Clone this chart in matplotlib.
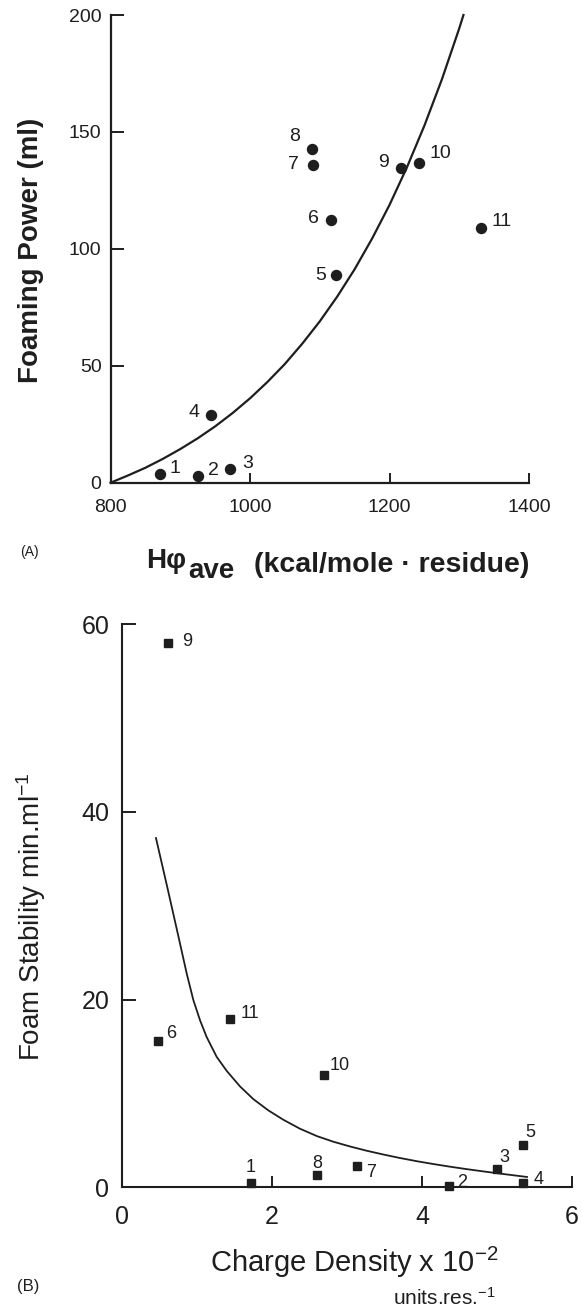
import numpy as np
import matplotlib.pyplot as plt

plt.rcParams["font.family"] = ["Liberation Sans", "DejaVu Sans"]
plt.rcParams["mathtext.fontset"] = "custom"
plt.rcParams["mathtext.rm"] = "Liberation Sans"
plt.rcParams["mathtext.default"] = "regular"

# Panel A: foaming power vs average hydrophobicity
a_ids = ["1", "2", "3", "4", "5", "6", "7", "8", "9", "10", "11"]
a_hphi = [870.8, 924.9, 971.2, 944.4, 1123, 1116.7, 1090, 1088.5, 1217, 1241.7, 1330.6]
a_foam = [3.8, 3.0, 6.0, 28.8, 88.8, 112.3, 135.8, 142.7, 134.7, 136.8, 108.8]
# fitted curve
a_fit_x = [800, 825, 850, 875, 900, 925, 950, 975, 1000, 1025, 1050, 1075,
           1100, 1125, 1150, 1175, 1200, 1225, 1250, 1275, 1300, 1306]
a_fit_y = [0, 3.1, 6.4, 10.2, 14.4, 19.0, 24.1, 29.8, 36.1, 43.1, 50.8, 59.5,
           69.0, 79.6, 91.3, 104.4, 118.8, 134.9, 152.7, 172.4, 194.3, 200]
a_xticks = [800, 1000, 1200, 1400]
a_yticks = [0, 50, 100, 150, 200]

# Panel B: foam stability vs charge density
b_ids = ["1", "2", "3", "4", "5", "6", "7", "8", "9", "10", "11"]
b_charge = [1.72, 4.36, 5.0, 5.35, 5.35, 0.485, 3.13, 2.6, 0.616, 2.69, 1.44]
b_stab = [0.43, 0.14, 2.0, 0.5, 4.5, 15.6, 2.27, 1.3, 58.0, 12.0, 17.9]
b_fit_x = [0.453, 0.6, 0.75, 0.862, 0.951, 1.04, 1.129, 1.262, 1.396, 1.573,
           1.75, 1.95, 2.15, 2.37, 2.6, 2.82, 3.04, 3.26, 3.48, 3.7, 3.93,
           4.15, 4.37, 4.6, 4.82, 5.1, 5.4]
b_fit_y = [37.2, 32.1, 26.8, 22.8, 19.95, 17.8, 16.0, 13.9, 12.4, 10.75,
           9.4, 8.2, 7.2, 6.25, 5.45, 4.85, 4.35, 3.9, 3.5, 3.13, 2.78,
           2.48, 2.2, 1.93, 1.69, 1.4, 1.1]
b_xticks = [0, 2, 4, 6]
b_yticks = [0, 20, 40, 60]

# label offsets in pixels (right, up)
a_offsets = [(15, 5), (16, 5), (18, 5), (-17, 3), (-15, 0), (-18, 2),
             (-19, 1), (-17, 12), (-18, 5), (22, 9), (21, 7)]
b_offsets = [(0, 16), (13, 3), (7, 11), (15, 3), (7, 13), (13, 7),
             (14, -7), (0, 12), (19, 1), (16, 9), (20, 6)]

INK = "#1e1e1e"
W, H = 582, 1314


def fx(x):
    return x / W


def fy(y):
    return 1 - y / H


fig = plt.figure(figsize=(W / 100, H / 100), dpi=100)
fig.patch.set_facecolor("white")


def style_axes(ax, lw):
    for side in ["top", "right"]:
        ax.spines[side].set_visible(False)
    for side in ["left", "bottom"]:
        ax.spines[side].set_linewidth(lw)
        ax.spines[side].set_color(INK)


### Panel A
ax_a = fig.add_axes([fx(110.6), fy(482.7), (529 - 110.6) / W, (482.7 - 15) / H])
style_axes(ax_a, 1.6)
ax_a.plot(a_fit_x, a_fit_y, color=INK, lw=1.6, clip_on=False, zorder=2,
          solid_joinstyle="round")
ax_a.plot(a_hphi, a_foam, "o", color=INK, ms=7.2, clip_on=False, zorder=3)
for lab, x, y, off in zip(a_ids, a_hphi, a_foam, a_offsets):
    ax_a.annotate(lab, (x, y), xytext=off, textcoords="offset pixels",
                  ha="center", va="center", fontsize=14, color=INK)
ax_a.set_xlim(800, 1400)
ax_a.set_ylim(0, 200)
ax_a.set_xticks(a_xticks)
ax_a.set_yticks(a_yticks)
ax_a.tick_params(axis="y", direction="in", length=9, width=1.4, pad=6.5,
                 labelsize=14, colors=INK)
ax_a.tick_params(axis="x", direction="in", length=7.5, width=1.4, pad=12,
                 labelsize=14, colors=INK)

fig.text(fx(31), fy(250), "Foaming Power (ml)", rotation=90, ha="center",
         va="center", fontsize=20, fontweight="bold", color=INK)
fig.text(fx(20), fy(552), "(A)", ha="left", va="center", fontsize=10, color=INK)
fig.text(fx(146.6), fy(568), "H\u03c6", ha="left", va="baseline", fontsize=20,
         fontweight="bold", color=INK)
fig.text(fx(188.6), fy(578), "ave", ha="left", va="baseline", fontsize=20,
         fontweight="bold", color=INK)
fig.text(fx(254), fy(572), "(kcal/mole \u00b7 residue)", ha="left", va="baseline",
         fontsize=20.5, fontweight="bold", color=INK)

### Panel B
ax_b = fig.add_axes([fx(122), fy(1187.3), (572 - 122) / W, (1187.3 - 624) / H])
style_axes(ax_b, 1.5)
ax_b.plot(b_fit_x, b_fit_y, color=INK, lw=1.3, zorder=2, solid_joinstyle="round")
ax_b.plot(b_charge, b_stab, "s", color=INK, ms=6, clip_on=False, zorder=3)
for lab, x, y, off in zip(b_ids, b_charge, b_stab, b_offsets):
    ax_b.annotate(lab, (x, y), xytext=off, textcoords="offset pixels",
                  ha="center", va="center", fontsize=13, color=INK)
ax_b.set_xlim(0, 6)
ax_b.set_ylim(0, 60)
ax_b.set_xticks(b_xticks)
ax_b.set_yticks(b_yticks)
ax_b.tick_params(axis="y", direction="in", length=10, width=1.4, pad=9,
                 labelsize=18, colors=INK)
ax_b.tick_params(axis="x", direction="in", length=8, width=1.4, pad=13,
                 labelsize=18, colors=INK)

fig.text(fx(31), fy(917), "Foam Stability min.ml$^{-1}$", rotation=90,
         ha="center", va="center", fontsize=20, color=INK)
fig.text(fx(210), fy(1262), "Charge Density x 10$^{-2}$", ha="left",
         va="center", fontsize=21, color=INK)
fig.text(fx(496), fy(1298), "units.res.$^{-1}$", ha="right", va="center",
         fontsize=15, color=INK)
fig.text(fx(17), fy(1287), "(B)", ha="left", va="center", fontsize=12, color=INK)

fig.savefig("out.png", dpi=100, facecolor="white")
